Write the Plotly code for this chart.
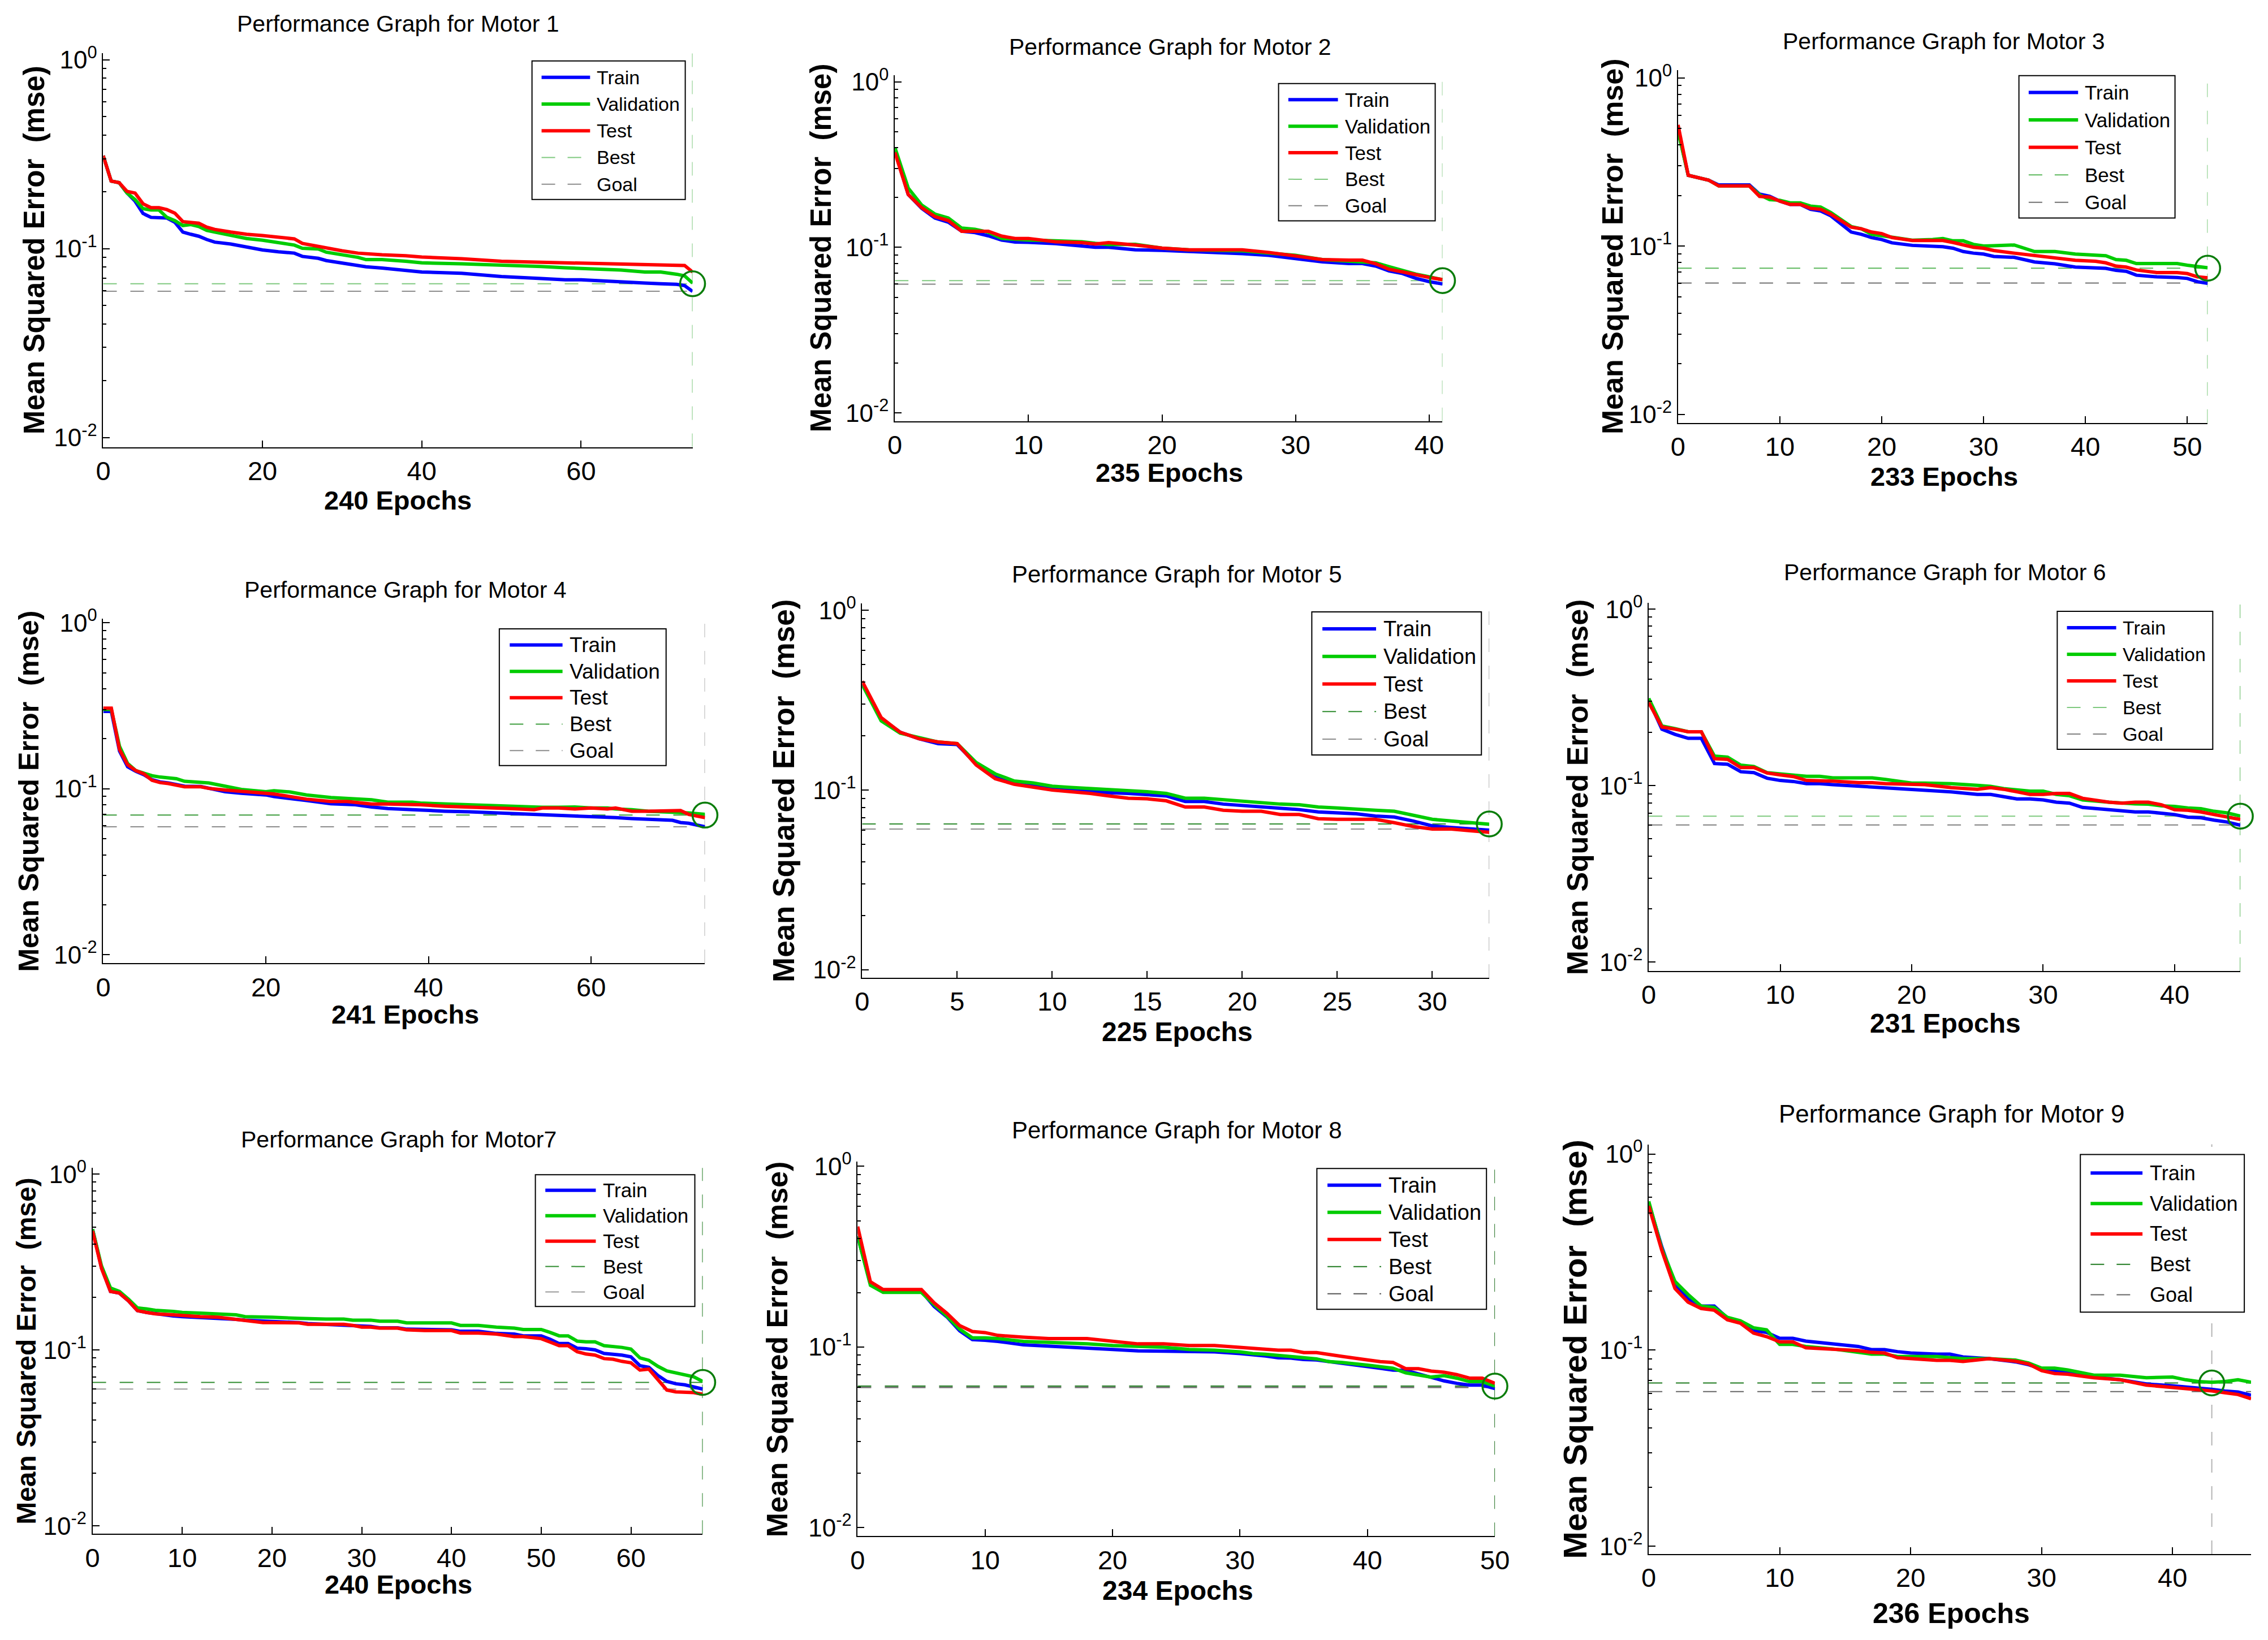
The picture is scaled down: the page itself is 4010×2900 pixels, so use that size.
import plotly.graph_objects as go

W, H = 4010, 2900

titles = ["Performance Graph for Motor 1", "Performance Graph for Motor 2", "Performance Graph for Motor 3",
          "Performance Graph for Motor 4", "Performance Graph for Motor 5", "Performance Graph for Motor 6",
          "Performance Graph for Motor7", "Performance Graph for Motor 8", "Performance Graph for Motor 9"]
epoch_totals = [240, 235, 233, 241, 225, 231, 240, 234, 236]
series_names = ["Train", "Validation", "Test", "Best", "Goal"]
y_tick_vals = [0.01, 0.1, 1]
y_tick_text = ["10<sup>-2</sup>", "10<sup>-1</sup>", "10<sup>0</sup>"]

# ---------------- Motor 1 ----------------
ep1 = [0,1,2,3,4,5,6,7,8,9,10,11,12,13,14,16,18,20,22,24,25,27,28,30,32,33,35,38,40,45,50,55,58,60,62,65,68,70,72,73,74]
train1 = [.311,.2284,.2239,.1972,.1786,.1537,.1466,.1466,.1454,.138,.1226,.1193,.1165,.1119,.1084,.1059,.1018,.0986,.0963,.0948,.0911,.089,.0866,.0842,.0815,.0803,.079,.0772,.0753,.0742,.0713,.0696,.0685,.0685,.0677,.0669,.0658,.0653,.0648,.0638,.0594]
valid1 = [.311,.2284,.2239,.1972,.1822,.1631,.1605,.1605,.1466,.1408,.1327,.1343,.1312,.1251,.1226,.1179,.1133,.1110,.1080,.1046,.1006,.0998,.0959,.0929,.0900,.0876,.0876,.0859,.0842,.0832,.0822,.0806,.0793,.0787,.0778,.0772,.0753,.0753,.0733,.0719,.0658]
test1 = [.311,.2284,.2239,.2011,.1972,.1730,.1650,.1650,.1611,.1543,.1392,.1380,.1365,.1301,.1266,.1226,.1193,.1174,.1147,.1128,.1068,.1026,.1014,.0975,.0948,.0940,.0929,.0918,.0904,.0886,.0859,.0848,.0842,.0835,.0835,.0832,.0825,.0818,.0815,.0815,.0753]

# ---------------- Motor 2 ----------------
ep2 = [0,1,2,3,4,5,6,7,8,9,10,12,14,15,16,18,20,22,24,26,28,30,32,34,35,36,37,38,39,40,41]
train2 = [.3836,.2085,.1724,.1505,.1420,.1251,.1228,.1174,.1107,.1077,.1072,.1053,.1020,.1002,.1002,.0967,.0958,.0945,.0924,.0916,.0895,.0852,.0818,.0799,.0799,.0771,.0721,.0695,.0650,.0621,.0601]
valid2 = [.4014,.2282,.1803,.1589,.1505,.1308,.1285,.1234,.1132,.1117,.1107,.1097,.1082,.1058,.1039,.1043,.0989,.0967,.0958,.0954,.0924,.0895,.0844,.0825,.0818,.0807,.0764,.0727,.0689,.0664,.0638]
test2 = [.3751,.2085,.1739,.1533,.1452,.1251,.1251,.1251,.1169,.1132,.1132,.1082,.1068,.1048,.1068,.1034,.0989,.0967,.0967,.0967,.0932,.0883,.0844,.0837,.0837,.0796,.0737,.0711,.0680,.0658,.0638]

# ---------------- Motor 3 ----------------
ep3 = [0,1,3,4,7,8,9,10,11,12,13,14,15,16,17,18,19,20,21,23,25,26,27,28,29,30,31,33,35,37,39,41,42,43,44,45,47,49,50,51,52]
train3 = [.4913,.2638,.2469,.2310,.2310,.2039,.1977,.1850,.1770,.1770,.1656,.1620,.1515,.1355,.1213,.1176,.1125,.1095,.1047,.1011,.1002,.0993,.0972,.0929,.0909,.0897,.0869,.0858,.0806,.0785,.0751,.0744,.0738,.0718,.0709,.0672,.0657,.0651,.0643,.0615,.0601]
valid3 = [.4805,.2638,.2469,.2279,.2279,.2021,.1891,.1874,.1809,.1809,.1730,.1707,.1583,.1430,.1308,.1268,.1176,.1155,.1135,.1086,.1095,.1110,.1076,.1076,.1025,.1002,.1007,.1016,.0929,.0929,.0897,.0885,.0877,.0832,.0824,.0788,.0788,.0788,.0771,.0754,.0744]
test3 = [.5253,.2638,.2469,.2279,.2279,.1977,.1959,.1850,.1770,.1770,.1678,.1656,.1549,.1417,.1297,.1268,.1213,.1187,.1125,.1081,.1081,.1081,.1052,.1016,.0985,.0972,.0942,.0909,.0877,.0850,.0824,.0813,.0796,.0761,.0751,.0722,.0697,.0697,.0687,.0657,.0649]

# ---------------- Motor 4 ----------------
ep4 = [0,1,2,3,4,5,6,7,8,9,10,12,13,15,17,20,21,23,25,28,30,31,33,35,38,39,42,45,48,50,53,54,56,58,60,62,63,65,67,70,71,72,74]
train4 = [.2922,.2922,.1687,.1358,.1275,.1214,.1134,.1099,.1084,.1065,.1036,.1032,.1005,.0960,.0939,.0918,.0897,.0877,.0850,.0813,.0809,.0802,.0777,.0760,.0749,.0743,.0733,.0726,.0716,.0710,.0701,.0697,.0694,.0685,.0685,.0676,.0670,.0661,.0655,.0646,.0626,.0620,.0590]
valid4 = [.3002,.3002,.1805,.1421,.1287,.1242,.1198,.1176,.1160,.1150,.1109,.1099,.1084,.1036,.0991,.0960,.0973,.0956,.0918,.0885,.0877,.0866,.0858,.0831,.0831,.0820,.0809,.0802,.0791,.0784,.0777,.0774,.0774,.0777,.0766,.0766,.0756,.0749,.0733,.0726,.0723,.0716,.0701]
test4 = [.3057,.3057,.1725,.1396,.1287,.1230,.1124,.1089,.1075,.1051,.1027,.1027,.1005,.0982,.0969,.0939,.0930,.0897,.0866,.0839,.0839,.0828,.0809,.0809,.0802,.0802,.0784,.0777,.0766,.0760,.0749,.0766,.0766,.0756,.0766,.0756,.0766,.0733,.0733,.0739,.0739,.0701,.0670]

# ---------------- Motor 5 ----------------
ep5 = list(range(0, 34))
train5 = [.3870,.2499,.2099,.1930,.1814,.1792,.1395,.1191,.1096,.1064,.1021,.1000,.0988,.0967,.0959,.0939,.0928,.0864,.0864,.0836,.0822,.0805,.0788,.0779,.0756,.0747,.0738,.0717,.0708,.0673,.0632,.0619,.0607,.0599]
valid5 = [.3870,.2427,.2073,.1963,.1852,.1814,.1424,.1231,.1124,.1096,.1051,.1034,.1021,.1000,.0992,.0979,.0959,.0901,.0901,.0882,.0864,.0847,.0836,.0829,.0805,.0796,.0788,.0773,.0763,.0723,.0688,.0673,.0659,.0646]
test5 = [.4035,.2531,.2099,.1930,.1852,.1814,.1378,.1157,.1078,.1042,.1000,.0979,.0959,.0928,.0901,.0894,.0872,.0805,.0805,.0773,.0763,.0763,.0732,.0732,.0693,.0688,.0688,.0688,.0659,.0627,.0607,.0607,.0594,.0582]

# ---------------- Motor 6 ----------------
ep6 = [0,1,2,3,4,5,6,7,8,9,10,11,12,13,14,16,17,18,20,21,23,25,26,27,28,29,30,31,32,33,35,36,37,38,39,40,41,42,43,44,45]
train6 = [.3044,.2089,.1952,.1855,.1855,.1334,.1322,.1199,.1185,.1102,.1070,.1056,.1026,.1026,.1013,.0992,.0975,.0963,.0950,.0943,.0923,.0892,.0892,.0866,.0841,.0841,.0830,.0806,.0796,.0753,.0731,.0722,.0710,.0710,.0701,.0686,.0663,.0658,.0638,.0622,.0597]
valid6 = [.3122,.2179,.2106,.2019,.2019,.1470,.1451,.1306,.1284,.1185,.1165,.1150,.1130,.1130,.1107,.1107,.1107,.1084,.1034,.1034,.1026,.1004,.0992,.0963,.0950,.0931,.0931,.0892,.0877,.0830,.0806,.0796,.0789,.0786,.0769,.0763,.0747,.0741,.0716,.0701,.0672]
test6 = [.2955,.2151,.2089,.2019,.2019,.1421,.1409,.1267,.1267,.1180,.1150,.1126,.1070,.1070,.1061,.1039,.1039,.1026,.1013,.1013,.0975,.0954,.0975,.0954,.0923,.0892,.0892,.0903,.0903,.0848,.0806,.0796,.0806,.0806,.0779,.0731,.0725,.0710,.0686,.0666,.0644]

# ---------------- Motor 7 ----------------
ep7 = [0,1,2,3,4,5,6,7,9,10,12,14,16,17,19,20,23,24,26,28,29,30,31,32,34,35,37,40,41,43,45,47,48,50,51,52,53,54,55,56,57,58,59,60,61,62,63,64,65,66,67,68]
train7 = [.4870,.2941,.2154,.2106,.1904,.1675,.1637,.1607,.1563,.1549,.1535,.1514,.1493,.1479,.1466,.1459,.1432,.1413,.1400,.1381,.1368,.1362,.1362,.1338,.1338,.1314,.1314,.1302,.1278,.1278,.1243,.1232,.1204,.1204,.1150,.1088,.1088,.1025,.1016,.1002,.0957,.0949,.0936,.0915,.0815,.0797,.0717,.0663,.0643,.0634,.0619,.0600]
valid7 = [.4870,.3010,.2255,.2154,.1948,.1737,.1713,.1682,.1659,.1637,.1622,.1600,.1585,.1549,.1549,.1535,.1514,.1507,.1500,.1500,.1479,.1479,.1479,.1459,.1459,.1426,.1426,.1426,.1381,.1381,.1350,.1332,.1308,.1308,.1259,.1204,.1204,.1124,.1114,.1114,.1059,.1049,.1035,.1012,.0902,.0874,.0808,.0761,.0744,.0727,.0704,.0663]
test7 = [.4760,.2914,.2154,.2106,.1904,.1675,.1637,.1607,.1585,.1570,.1549,.1535,.1493,.1466,.1432,.1432,.1426,.1400,.1400,.1400,.1381,.1350,.1350,.1332,.1332,.1302,.1290,.1290,.1249,.1249,.1232,.1193,.1193,.1161,.1109,.1059,.1059,.0979,.0949,.0936,.0894,.0886,.0862,.0846,.0769,.0779,.0679,.0592,.0578,.0578,.0573,.0560]

# ---------------- Motor 8 ----------------
ep8 = [0,1,2,3,4,5,6,7,8,9,10,11,13,15,18,20,21,22,24,26,28,30,31,32,33,34,35,36,37,38,40,41,42,43,44,45,46,47,48,49,50]
train8 = [.4097,.2243,.2033,.2033,.2033,.2033,.1678,.1468,.1228,.1098,.1088,.1074,.1027,.1013,.0982,.0969,.0960,.0952,.0948,.0948,.0939,.0919,.0907,.0891,.0871,.0867,.0852,.0848,.0829,.0814,.0779,.0762,.0745,.0742,.0709,.0681,.0649,.0629,.0615,.0615,.0588]
valid8 = [.4097,.2194,.2006,.2006,.2006,.2006,.1716,.1481,.1256,.1123,.1123,.1113,.1074,.1064,.1040,.1018,.1013,.1004,.0996,.0969,.0960,.0939,.0919,.0911,.0899,.0887,.0871,.0859,.0829,.0821,.0793,.0779,.0762,.0719,.0703,.0681,.0694,.0672,.0643,.0643,.0607]
test8 = [.4642,.2293,.2079,.2079,.2079,.2079,.1754,.1535,.1313,.1217,.1201,.1159,.1133,.1113,.1113,.1074,.1050,.1040,.1040,.1018,.1018,.0996,.0982,.0969,.0960,.0960,.0931,.0931,.0907,.0887,.0848,.0829,.0821,.0758,.0758,.0735,.0725,.0703,.0672,.0672,.0629]

# ---------------- Motor 9 ----------------
ep9 = [0,1,2,3,4,5,6,7,8,9,10,11,12,14,16,17,18,19,20,22,23,24,26,28,29,30,31,32,34,36,38,40,41,42,43,44,45,46]
train9 = [.5615,.3354,.2175,.1822,.1678,.1678,.1458,.1393,.1257,.1231,.1148,.1148,.1111,.1079,.1044,.1006,.1006,.0982,.0966,.0954,.0954,.0923,.0904,.0871,.0843,.0802,.0782,.0766,.0729,.0706,.0672,.0658,.0650,.0639,.0631,.0619,.0611,.0589]
valid9 = [.5733,.3285,.2239,.1922,.1678,.1650,.1470,.1411,.1299,.1268,.1070,.1070,.1044,.1015,.0974,.0954,.0954,.0927,.0927,.0927,.0915,.0904,.0904,.0889,.0860,.0809,.0809,.0792,.0745,.0745,.0723,.0729,.0706,.0691,.0686,.0691,.0706,.0686]
test9 = [.5433,.3218,.2061,.1756,.1630,.1597,.1428,.1371,.1221,.1172,.1102,.1102,.1027,.1015,.0994,.0974,.0966,.0915,.0904,.0886,.0886,.0875,.0904,.0878,.0850,.0786,.0760,.0754,.0723,.0706,.0663,.0645,.0639,.0626,.0619,.0606,.0594,.0565]

best_perf = [0.0653, 0.0630, 0.0740, 0.0694, 0.0648, 0.0672, 0.0655, 0.0607, 0.0680]
goal_perf = [0.0596, 0.0599, 0.0604, 0.0590, 0.0607, 0.0599, 0.0600, 0.0596, 0.0614]
best_epoch = [74, 41, 52, 74, 33, 45, 68, 50, 43]
last_epoch = [74, 41, 52, 74, 33, 45, 68, 50, 46]

epochs_all = [ep1, ep2, ep3, ep4, ep5, ep6, ep7, ep8, ep9]
train_all = [train1, train2, train3, train4, train5, train6, train7, train8, train9]
valid_all = [valid1, valid2, valid3, valid4, valid5, valid6, valid7, valid8, valid9]
test_all = [test1, test2, test3, test4, test5, test6, test7, test8, test9]


# ---------------- layout (pixel positions in the 4010x2900 picture) ----------------
def PX(x):
    return 1.006 * x - 18


def PY(y):
    return 1.007 * y - 27


boxes = [(180, 1226, 89, 789), (1585, 2557, 128, 743), (2975, 3915, 119, 746),
         (180, 1248, 1094, 1706), (1527, 2640, 1067, 1732), (2923, 3973, 1066, 1720),
         (161, 1244, 2070, 2720), (1519, 2650, 2059, 2724), (2923, 3992, 2028, 2756)]
y_ranges = [(-2.05, 0.036), (-2.05, 0.041), (-2.05, 0.047), (-2.05, 0.024), (-2.044, 0.038),
            (-2.05, 0.035), (-2.045, 0.035), (-2.047, 0.025), (-2.04, 0.049)]
x_dticks = [20, 10, 10, 20, 5, 10, 10, 10, 10]
title_pos = [(703, 37), (2074, 78), (3447, 68), (717, 1043), (2086, 1015), (3449, 1012),
             (704, 2019), (2086, 2003), (3460, 1974)]
xtitle_pos = [(703, 883), (2072, 834), (3447, 841), (716, 1797), (2086, 1828), (3449, 1813),
              (704, 2810), (2087, 2821), (3460, 2861)]
ytitle_x = [57, 1454, 2858, 48, 1387, 2796, 44, 1376, 2792]
ytitle_size = [51, 51, 52, 50, 53, 52, 48, 52, 58]
xtitle_size = [47, 47, 47, 47, 48, 48, 47, 48, 50]
title_size = [41, 41, 41, 41, 42, 41, 41, 42, 44]
legend_box = [(941, 1213, 103, 349), (2266, 2544, 143, 387), (3580, 3857, 129, 382),
              (883, 1179, 1112, 1355), (2325, 2626, 1082, 1336), (3648, 3924, 1081, 1326),
              (947, 1230, 2082, 2316), (2334, 2635, 2071, 2321), (3689, 3980, 2046, 2326)]

best_colors = ["#7fc97f", "#7fc97f", "#5cb85c", "#3c9c3c", "#2e8b2e", "#7fc97f", "#2e8b2e", "#1f7a1f", "#1f7a1f"]
goal_colors = ["#8c8c8c", "#808080", "#707070", "#8c8c8c", "#8c8c8c", "#808080", "#9a9a9a", "#555555", "#666666"]
vline_colors = ["#7fc97f", "#9fd49f", "#7fc97f", "#b4b4b4", "#b4b4b4", "#5cb85c", "#1f7a1f", "#1f6f1f", "#b4b4b4"]
C_TRAIN, C_VALID, C_TEST = "#0000ff", "#00cc00", "#ff0000"
C_CIRCLE = "#0a7d0a"
FONT = "Liberation Sans, Arial, Helvetica, sans-serif"
DASH = "24px,24px"
LW = 6

minor_vals = [k * 10 ** e for e in (-2, -1) for k in range(2, 10)]

fig = go.Figure()
annotations = []
shapes = []
layout = dict(width=W, height=H, margin=dict(l=0, r=0, t=0, b=0), showlegend=False,
              paper_bgcolor="white", plot_bgcolor="white", font=dict(family=FONT, color="black"))


def px_x(x):
    return PX(x) / W


def px_y(y):
    return 1 - PY(y) / H


for i in range(9):
    sfx = "" if i == 0 else str(i + 1)
    xa, ya = "x" + sfx, "y" + sfx
    l, r, t, b = boxes[i]
    ep = epochs_all[i]

    # reference lines (under the curves)
    fig.add_trace(go.Scatter(x=[0, last_epoch[i]], y=[best_perf[i], best_perf[i]], mode="lines",
                             name=series_names[3], xaxis=xa, yaxis=ya,
                             line=dict(color=best_colors[i], width=2, dash=DASH), hoverinfo="skip"))
    fig.add_trace(go.Scatter(x=[0, last_epoch[i]], y=[goal_perf[i], goal_perf[i]], mode="lines",
                             name=series_names[4], xaxis=xa, yaxis=ya,
                             line=dict(color=goal_colors[i], width=2, dash=DASH), hoverinfo="skip"))
    for k, (vals, col) in enumerate([(train_all[i], C_TRAIN), (valid_all[i], C_VALID), (test_all[i], C_TEST)]):
        fig.add_trace(go.Scatter(x=ep, y=vals, mode="lines", name=series_names[k], xaxis=xa, yaxis=ya,
                                 line=dict(color=col, width=LW)))
    fig.add_trace(go.Scatter(x=[best_epoch[i]], y=[best_perf[i]], mode="markers", name="Best epoch",
                             xaxis=xa, yaxis=ya, cliponaxis=False,
                             marker=dict(symbol="circle-open", size=44, color=C_CIRCLE,
                                         line=dict(color=C_CIRCLE, width=3.5))))

    shapes.append(dict(type="line", xref=xa, yref=ya + " domain", x0=best_epoch[i], x1=best_epoch[i],
                       y0=0, y1=1, line=dict(color=vline_colors[i], width=2, dash=DASH), layer="below"))

    layout["xaxis" + sfx] = dict(domain=[px_x(l), px_x(r)], anchor=ya, range=[0, last_epoch[i]],
                                 dtick=x_dticks[i], tick0=0, showline=True, linecolor="black", linewidth=2,
                                 ticks="inside", ticklen=12, tickwidth=2, tickcolor="black",
                                 showgrid=False, zeroline=False, tickfont=dict(size=47, family=FONT),
                                 ticklabelstandoff=0)
    layout["yaxis" + sfx] = dict(domain=[px_y(b), px_y(t)], anchor=xa, type="log",
                                 range=list(y_ranges[i]), tickmode="array", tickvals=y_tick_vals,
                                 ticktext=y_tick_text, showline=True, linecolor="black", linewidth=2,
                                 ticks="inside", ticklen=12, tickwidth=2, tickcolor="black",
                                 showgrid=False, zeroline=False, tickfont=dict(size=44, family=FONT),
                                 minor=dict(tickmode="array", tickvals=minor_vals, ticks="inside",
                                            ticklen=6, tickwidth=1.5, tickcolor="black", showgrid=False))

    # boxed key in the top-right of each panel
    L, R, T, B = legend_box[i]
    w, h = R - L, B - T
    shapes.append(dict(type="rect", xref="paper", yref="paper", x0=px_x(L), x1=px_x(R), y0=px_y(B), y1=px_y(T),
                       line=dict(color="black", width=2), fillcolor="white", layer="above"))
    key_styles = [(C_TRAIN, LW, "solid"), (C_VALID, LW, "solid"), (C_TEST, LW, "solid"),
                  (best_colors[i], 2, "24px,22px"), (goal_colors[i], 2, "24px,22px")]
    fs_leg = round(0.125 * w)
    for k in range(5):
        yc = T + h * (0.118 + 0.193 * k)
        col, lw, dsh = key_styles[k]
        shapes.append(dict(type="line", xref="paper", yref="paper",
                           x0=px_x(L + 0.0625 * w), x1=px_x(L + 0.379 * w), y0=px_y(yc), y1=px_y(yc),
                           line=dict(color=col, width=lw, dash=dsh), layer="above"))
        annotations.append(dict(text=series_names[k], x=px_x(L + 0.415 * w), y=px_y(yc), xref="paper",
                                yref="paper", showarrow=False, xanchor="left", yanchor="middle",
                                font=dict(size=fs_leg, family=FONT, color="black")))

    tx, ty = title_pos[i]
    annotations.append(dict(text=titles[i], x=px_x(tx), y=px_y(ty), xref="paper", yref="paper",
                            showarrow=False, xanchor="center", yanchor="middle",
                            font=dict(size=title_size[i], family=FONT, color="black")))
    xx, xy = xtitle_pos[i]
    annotations.append(dict(text="<b>%d Epochs</b>" % epoch_totals[i], x=px_x(xx), y=px_y(xy),
                            xref="paper", yref="paper", showarrow=False, xanchor="center",
                            yanchor="middle", font=dict(size=xtitle_size[i], family=FONT, color="black")))
    annotations.append(dict(text="<b>Mean Squared Error  (mse)</b>", x=px_x(ytitle_x[i]),
                            y=px_y((t + b) / 2), xref="paper", yref="paper", showarrow=False,
                            textangle=-90, xanchor="center", yanchor="middle",
                            font=dict(size=ytitle_size[i], family=FONT, color="black")))

layout["annotations"] = annotations
layout["shapes"] = shapes
fig.update_layout(**layout)
fig.write_html("out.html")
